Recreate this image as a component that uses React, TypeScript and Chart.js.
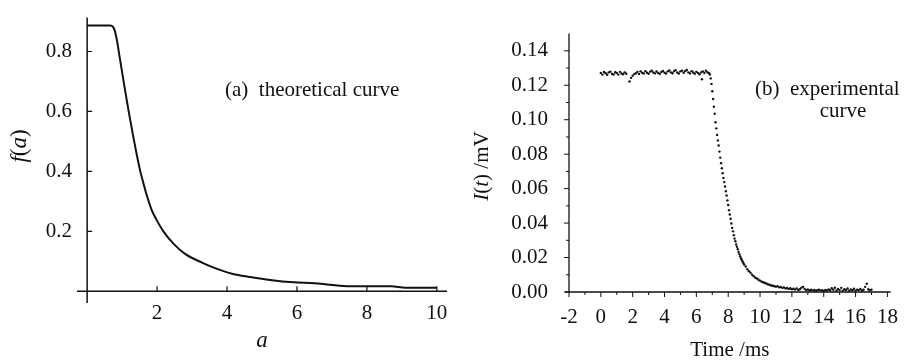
import React, { useEffect, useRef } from "react";
import { Chart, registerables } from "chart.js";

Chart.register(...registerables);

// ---------- Panel (a): theoretical curve ----------
const A_VALUES = [0, 0.66, 0.74, 0.8, 0.86, 0.92, 1.05, 1.18, 1.32, 1.42, 1.51, 1.61, 1.7, 1.85, 2.0, 2.18, 2.46, 2.8, 3.3, 3.6, 4.17, 4.66, 5.23, 5.9, 6.5, 6.94, 7.5, 8.7, 9.1, 10];
const F_VALUES = [0.887, 0.887, 0.882, 0.865, 0.832, 0.788, 0.695, 0.605, 0.515, 0.455, 0.405, 0.36, 0.322, 0.27, 0.235, 0.2, 0.16, 0.125, 0.095, 0.08, 0.058, 0.048, 0.038, 0.03, 0.027, 0.022, 0.017, 0.017, 0.012, 0.012];
const A_TICKS = [2, 4, 6, 8, 10];
const F_TICKS = [0.2, 0.4, 0.6, 0.8];

// ---------- Panel (b): experimental curve ----------
const PLATEAU_T = [0.0, 0.1, 0.2, 0.3, 0.4, 0.5, 0.6, 0.7, 0.8, 0.9, 1.0, 1.1, 1.2, 1.3, 1.4, 1.5, 1.6,
  1.8, 1.9, 2.0, 2.1, 2.2, 2.3, 2.4, 2.5, 2.6, 2.7, 2.8, 2.9, 3.0, 3.1, 3.2, 3.3, 3.4, 3.5, 3.6, 3.7, 3.8, 3.9,
  4.0, 4.1, 4.2, 4.3, 4.4, 4.5, 4.6, 4.7, 4.8, 4.9, 5.0, 5.1, 5.2, 5.3, 5.4, 5.5, 5.6, 5.7, 5.8, 5.9,
  6.0, 6.1, 6.2, 6.3, 6.35, 6.4, 6.5, 6.6, 6.7, 6.8];
const PLATEAU_I = [0.1272, 0.1262, 0.1277, 0.127, 0.1261, 0.1275, 0.1279, 0.1266, 0.1263, 0.1276, 0.1271, 0.1262, 0.1278, 0.1268, 0.1264, 0.1275, 0.1267,
  0.1222, 0.1243, 0.1256, 0.1265, 0.127, 0.1278, 0.1266, 0.1281, 0.1272, 0.1269, 0.1282, 0.1273, 0.1267, 0.1279, 0.1284, 0.1274, 0.1269, 0.128, 0.1272, 0.1266, 0.1277, 0.1283,
  0.1273, 0.1268, 0.1281, 0.1286, 0.1275, 0.127, 0.1282, 0.1288, 0.1274, 0.1268, 0.1281, 0.1285, 0.1273, 0.1283, 0.1289, 0.1275, 0.1269, 0.1282, 0.1274, 0.1267,
  0.1278, 0.1272, 0.1264, 0.1275, 0.1235, 0.1281, 0.1271, 0.1285, 0.1276, 0.127];
const DECAY_T = [6.85, 6.9, 6.95, 7.0, 7.05, 7.1, 7.15, 7.2, 7.25, 7.3, 7.35, 7.4, 7.45, 7.5, 7.55, 7.6, 7.65, 7.7, 7.75, 7.8,
  7.85, 7.9, 7.95, 8.0, 8.05, 8.1, 8.15, 8.2, 8.25, 8.3, 8.35, 8.4, 8.45, 8.5, 8.55, 8.6, 8.65, 8.7, 8.75, 8.8, 8.85, 8.9, 8.95, 9.0];
const DECAY_I = [0.1262, 0.124, 0.1208, 0.1165, 0.112, 0.1075, 0.1035, 0.0985, 0.095, 0.0912, 0.088, 0.085, 0.0815, 0.078, 0.0748, 0.0718, 0.069, 0.0662, 0.0638, 0.0612,
  0.0585, 0.056, 0.0532, 0.0505, 0.0475, 0.045, 0.0425, 0.0398, 0.0372, 0.0352, 0.033, 0.031, 0.0295, 0.0276, 0.0262, 0.0248, 0.0232, 0.022, 0.0208, 0.0196, 0.0187, 0.0178, 0.0168, 0.016];
const TAIL_T = [9.1, 9.2, 9.3, 9.4, 9.5, 9.6, 9.7, 9.8, 9.9, 10.0, 10.1, 10.2, 10.3, 10.4, 10.5, 10.6, 10.7, 10.8, 10.9, 11.0,
  11.1, 11.2, 11.3, 11.4, 11.5, 11.6, 11.7, 11.8, 11.9, 12.0, 12.1, 12.2, 12.3, 12.4, 12.5, 12.6, 12.7, 12.8, 12.9, 13.0,
  13.1, 13.2, 13.3, 13.4, 13.5, 13.6, 13.7, 13.8, 13.9, 14.0, 14.1, 14.2, 14.3, 14.4, 14.5, 14.6, 14.7, 14.8, 14.9, 15.0,
  15.1, 15.2, 15.3, 15.4, 15.5, 15.6, 15.7, 15.8, 15.9, 16.0, 16.1, 16.2, 16.3, 16.4, 16.5, 16.6, 16.7, 16.8, 16.9, 17.0];
const TAIL_I = [0.0148, 0.0132, 0.0121, 0.0112, 0.01, 0.0092, 0.0083, 0.0078, 0.0071, 0.0066, 0.006, 0.0057, 0.0052, 0.0049, 0.0044, 0.0042, 0.0038, 0.0036, 0.0033, 0.0031,
  0.0034, 0.0027, 0.0029, 0.0024, 0.0026, 0.0021, 0.0023, 0.0018, 0.0022, 0.0016, 0.0019, 0.0014, 0.0021, 0.0012, 0.0016, 0.0025, 0.003, 0.0018, 0.0011, 0.0015,
  0.0009, 0.0013, 0.0008, 0.0012, 0.0007, 0.001, 0.0014, 0.0008, 0.0011, 0.0006, 0.0012, 0.0009, 0.0015, 0.001, 0.0022, 0.0013, 0.0025, 0.0009, 0.0018, 0.0011,
  0.0024, 0.0008, 0.0016, 0.0012, 0.002, 0.0007, 0.0015, 0.001, 0.0019, 0.0008, 0.0014, 0.0011, 0.0017, 0.0009, 0.0013, 0.003, 0.0048, 0.0016, 0.001, 0.0014];
const TIME_TICKS = [-2, 0, 2, 4, 6, 8, 10, 12, 14, 16, 18];
const CURRENT_TICKS = [0, 0.02, 0.04, 0.06, 0.08, 0.1, 0.12, 0.14];

const SERIF = '"Liberation Serif", "Times New Roman", serif';
const INK = "#111";
const FS = 21;

type Part = [string, boolean];

function drawRich(ctx: CanvasRenderingContext2D, parts: Part[], cx: number, cy: number, size: number, rotate: boolean) {
  ctx.save();
  const fontOf = (it: boolean) => `${it ? "italic " : ""}${size}px ${SERIF}`;
  let total = 0;
  const widths = parts.map(([t, it]) => {
    ctx.font = fontOf(it);
    const w = ctx.measureText(t).width;
    total += w;
    return w;
  });
  ctx.translate(cx, cy);
  if (rotate) ctx.rotate(-Math.PI / 2);
  ctx.textBaseline = "middle";
  ctx.textAlign = "left";
  ctx.fillStyle = INK;
  let x = -total / 2;
  parts.forEach(([t, it], i) => {
    ctx.font = fontOf(it);
    ctx.fillText(t, x, 0);
    x += widths[i];
  });
  ctx.restore();
}

const panelAPlugin = {
  id: "panelA",
  afterDraw(chart: any) {
    const { ctx, chartArea, scales } = chart;
    const xs = scales.x, ys = scales.y;
    const x0 = xs.getPixelForValue(0);
    const y0 = ys.getPixelForValue(0);
    ctx.save();
    ctx.strokeStyle = INK;
    ctx.lineWidth = 1.5;
    ctx.beginPath();
    ctx.moveTo(chartArea.left, y0);
    ctx.lineTo(chartArea.right, y0);
    ctx.moveTo(x0, chartArea.top);
    ctx.lineTo(x0, chartArea.bottom);
    ctx.stroke();
    ctx.lineWidth = 1.2;
    ctx.beginPath();
    A_TICKS.forEach((v) => {
      const px = xs.getPixelForValue(v);
      ctx.moveTo(px, y0);
      ctx.lineTo(px, y0 - 5);
    });
    F_TICKS.forEach((v) => {
      const py = ys.getPixelForValue(v);
      ctx.moveTo(x0, py);
      ctx.lineTo(x0 + 5, py);
    });
    ctx.stroke();
    ctx.font = `${FS}px ${SERIF}`;
    ctx.fillStyle = INK;
    ctx.textBaseline = "middle";
    ctx.textAlign = "left";
    ctx.fillText("(a)  theoretical curve", 225, 90);
    ctx.restore();
    drawRich(ctx, [["f", true], ["(", false], ["a", true], [")", false]], 20, 146, 23, true);
  },
};

const panelBPlugin = {
  id: "panelB",
  afterDraw(chart: any) {
    const { ctx, chartArea, scales } = chart;
    const xs = scales.x, ys = scales.y;
    const left = chartArea.left, bottom = chartArea.bottom;
    ctx.save();
    ctx.strokeStyle = INK;
    ctx.lineWidth = 1.3;
    ctx.beginPath();
    ctx.moveTo(left - 4, bottom);
    ctx.lineTo(chartArea.right, bottom);
    ctx.moveTo(left, chartArea.top);
    ctx.lineTo(left, bottom);
    ctx.stroke();
    ctx.lineWidth = 1;
    ctx.beginPath();
    TIME_TICKS.forEach((v, i) => {
      const px = xs.getPixelForValue(v);
      ctx.moveTo(px, bottom);
      ctx.lineTo(px, bottom + 5);
      if (i < TIME_TICKS.length - 1) {
        const pm = xs.getPixelForValue((v + TIME_TICKS[i + 1]) / 2);
        ctx.moveTo(pm, bottom);
        ctx.lineTo(pm, bottom + 3);
      }
    });
    CURRENT_TICKS.forEach((v, i) => {
      const py = ys.getPixelForValue(v);
      ctx.moveTo(left, py);
      ctx.lineTo(left - 5, py);
      if (i < CURRENT_TICKS.length - 1) {
        const pm = ys.getPixelForValue((v + CURRENT_TICKS[i + 1]) / 2);
        ctx.moveTo(left, pm);
        ctx.lineTo(left - 3, pm);
      }
    });
    ctx.stroke();
    ctx.font = `${FS}px ${SERIF}`;
    ctx.fillStyle = INK;
    ctx.textBaseline = "middle";
    ctx.textAlign = "left";
    ctx.fillText("(b)  experimental", 300, 89);
    ctx.textAlign = "center";
    ctx.fillText("curve", 388, 111);
    ctx.restore();
    drawRich(ctx, [["I", true], ["(", false], ["t", true], [") /mV", false]], 27, 166, FS, true);
  },
};

function PanelA() {
  const ref = useRef<HTMLCanvasElement | null>(null);
  useEffect(() => {
    if (!ref.current) return;
    const chart = new Chart(ref.current, {
      type: "line",
      data: {
        datasets: [
          {
            data: A_VALUES.map((a, i) => ({ x: a, y: F_VALUES[i] })),
            borderColor: INK,
            borderWidth: 2,
            pointRadius: 0,
            cubicInterpolationMode: "monotone",
            fill: false,
          },
        ],
      },
      options: {
        responsive: false,
        animation: false,
        events: [],
        layout: { padding: { left: 0, right: 8, top: 8, bottom: 0 } },
        plugins: { legend: { display: false }, tooltip: { enabled: false } },
        scales: {
          x: {
            type: "linear",
            min: -0.29,
            max: 10.29,
            afterBuildTicks: (s: any) => { s.ticks = A_TICKS.map((v) => ({ value: v })); },
            afterFit: (s: any) => { s.height = 59; },
            grid: { display: false, drawTicks: false },
            border: { display: false },
            ticks: { color: INK, font: { family: SERIF, size: FS }, padding: -2, maxRotation: 0, autoSkip: false, callback: (v: any) => String(v) },
            title: { display: true, text: "a", color: INK, font: { family: SERIF, size: 23, style: "italic" }, padding: 7 },
          },
          y: {
            type: "linear",
            min: -0.039,
            max: 0.913,
            afterBuildTicks: (s: any) => { s.ticks = F_TICKS.map((v) => ({ value: v })); },
            afterFit: (s: any) => { s.width = 77; },
            grid: { display: false, drawTicks: false },
            border: { display: false },
            ticks: { color: INK, font: { family: SERIF, size: FS }, padding: 5, autoSkip: false, callback: (v: any) => Number(v).toFixed(1) },
          },
        },
      },
      plugins: [panelAPlugin],
    } as any);
    return () => chart.destroy();
  }, []);
  return <canvas ref={ref} width={455} height={362} style={{ position: "absolute", left: 0, top: 0, width: 455, height: 362 }} />;
}

function PanelB() {
  const ref = useRef<HTMLCanvasElement | null>(null);
  useEffect(() => {
    if (!ref.current) return;
    const times = [...PLATEAU_T, ...DECAY_T, ...TAIL_T];
    const currents = [...PLATEAU_I, ...DECAY_I, ...TAIL_I];
    const chart = new Chart(ref.current, {
      type: "scatter",
      data: {
        datasets: [
          {
            data: times.map((t, i) => ({ x: t, y: currents[i] })),
            backgroundColor: INK,
            borderColor: INK,
            borderWidth: 0,
            pointRadius: 1.2,
          },
        ],
      },
      options: {
        responsive: false,
        animation: false,
        events: [],
        layout: { padding: { left: 0, right: 8, top: 11, bottom: 0 } },
        plugins: { legend: { display: false }, tooltip: { enabled: false } },
        scales: {
          x: {
            type: "linear",
            min: -2,
            max: 18.2,
            afterBuildTicks: (s: any) => { s.ticks = TIME_TICKS.map((v) => ({ value: v })); },
            afterFit: (s: any) => { s.height = 70; },
            grid: { display: false, drawTicks: false },
            border: { display: false },
            ticks: { color: INK, font: { family: SERIF, size: FS }, padding: 13, maxRotation: 0, autoSkip: false, callback: (v: any) => String(v) },
            title: { display: true, text: "Time /ms", color: INK, font: { family: SERIF, size: FS }, padding: -1 },
          },
          y: {
            type: "linear",
            min: 0,
            max: 0.15,
            afterBuildTicks: (s: any) => { s.ticks = CURRENT_TICKS.map((v) => ({ value: v })); },
            afterFit: (s: any) => { s.width = 114; },
            grid: { display: false, drawTicks: false },
            border: { display: false },
            ticks: { color: INK, font: { family: SERIF, size: FS }, padding: 21, autoSkip: false, callback: (v: any) => Number(v).toFixed(2) },
          },
        },
      },
      plugins: [panelBPlugin],
    } as any);
    return () => chart.destroy();
  }, []);
  return <canvas ref={ref} width={456} height={362} style={{ position: "absolute", left: 455, top: 0, width: 456, height: 362 }} />;
}

export default function App() {
  return (
    <div style={{ position: "absolute", left: 0, top: 0, width: 911, height: 362, background: "#fff", overflow: "hidden" }}>
      <PanelA />
      <PanelB />
    </div>
  );
}
